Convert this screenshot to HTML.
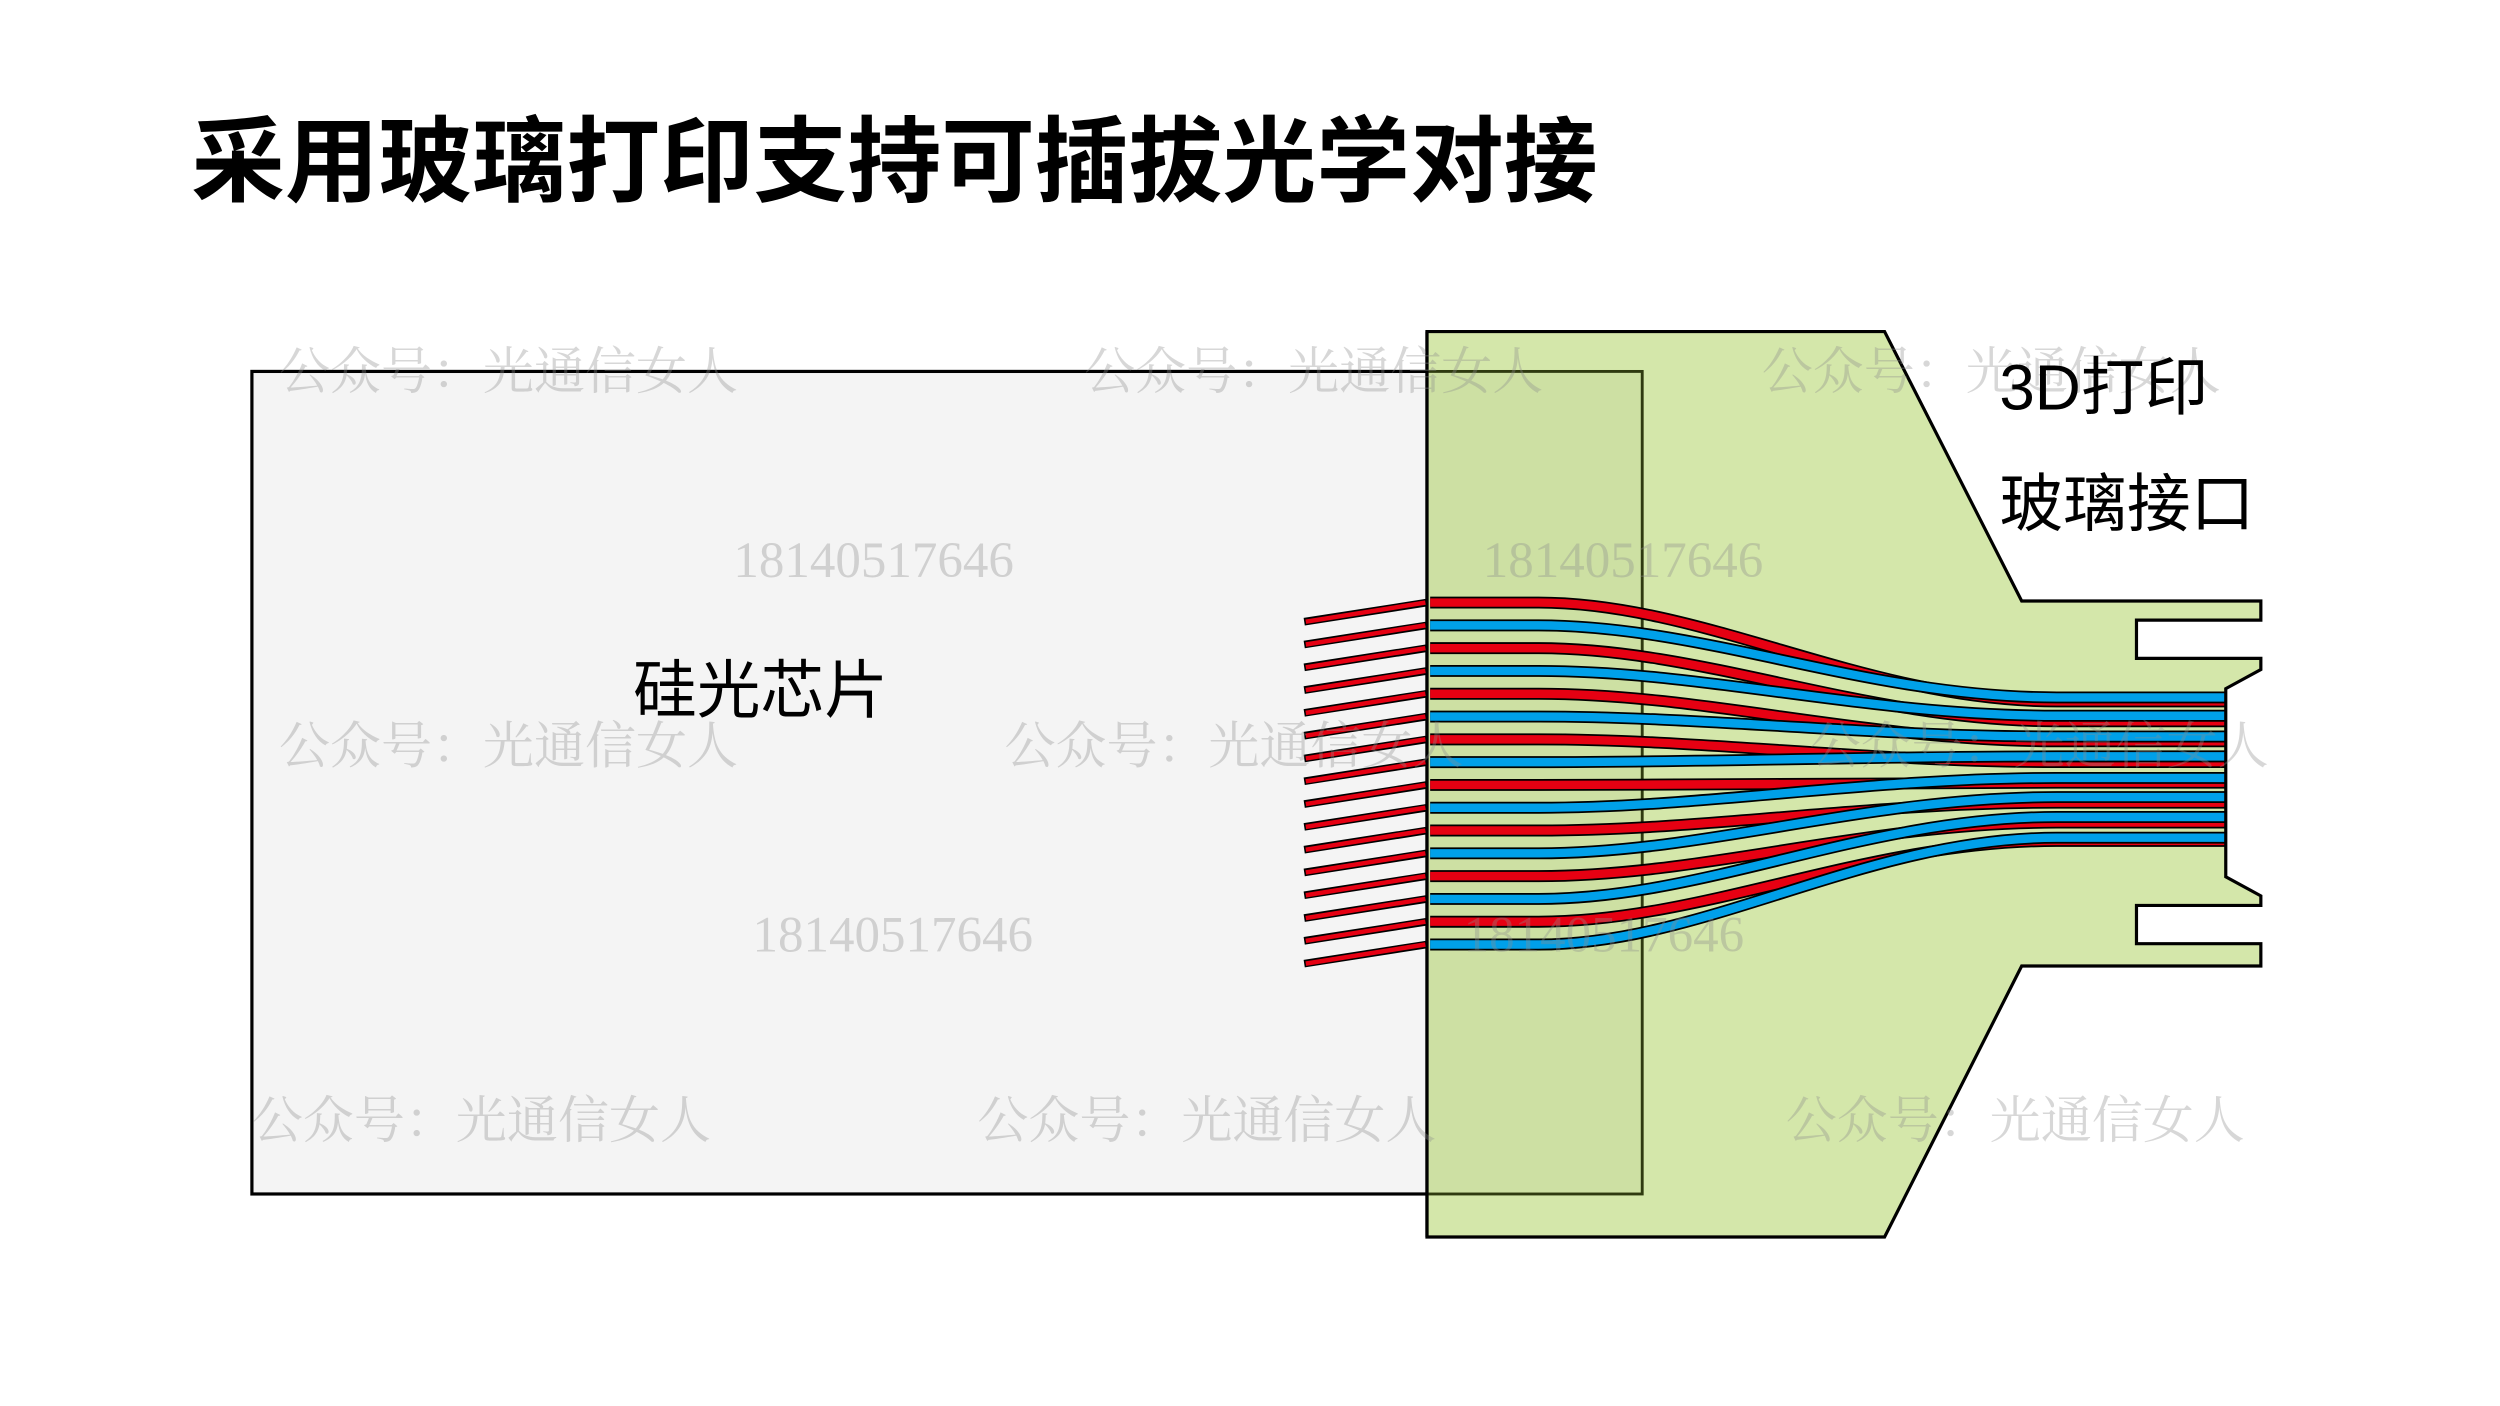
<!DOCTYPE html>
<html><head><meta charset="utf-8"><style>
html,body{margin:0;padding:0;background:#fff}
svg{display:block}
</style></head><body>
<svg width="2500" height="1406" viewBox="0 0 1568 882" preserveAspectRatio="none" xmlns="http://www.w3.org/2000/svg">
<rect width="1600" height="900" fill="#fff"/>
<text x="120" y="122" font-family="Liberation Sans, Noto Sans CJK SC, sans-serif" font-weight="bold" font-size="58.8" fill="#000">采用玻璃打印支持可插拔光学对接</text>
<rect x="158" y="233" width="872" height="516" fill="#f4f4f4" stroke="#000" stroke-width="2"/>
<polygon points="895,208 1182,208 1268,377 1418,377 1418,389 1340,389 1340,413 1418,413 1418,420 1396,432 1396,550 1418,562 1418,568 1340,568 1340,592 1418,592 1418,606 1268,606 1182,776 895,776" fill="#d4e7aa" stroke="#000" stroke-width="2"/>
<rect x="895" y="233" width="135" height="516" fill="rgba(60,80,0,0.04)" stroke="#2f3a10" stroke-width="1.8"/>
<line x1="895" y1="208" x2="895" y2="776" stroke="#000" stroke-width="2"/>
<g fill="none" stroke-linecap="butt">
<g stroke="#000" stroke-width="4.8">
<path d="M818,390 L895,378 M818,404.3 L895,392.3 M818,418.6 L895,406.6 M818,432.9 L895,420.9 M818,447.2 L895,435.2 M818,461.5 L895,449.5 M818,475.8 L895,463.8 M818,490.1 L895,478.1 M818,504.4 L895,492.4 M818,518.7 L895,506.7 M818,533 L895,521 M818,547.3 L895,535.3 M818,561.6 L895,549.6 M818,575.9 L895,563.9 M818,590.2 L895,578.2 M818,604.5 L895,592.5"/>
</g>
<g stroke="#e60012" stroke-width="2.8">
<path d="M819,390 L894,378 M819,404.3 L894,392.3 M819,418.6 L894,406.6 M819,432.9 L894,420.9 M819,447.2 L894,435.2 M819,461.5 L894,449.5 M819,475.8 L894,463.8 M819,490.1 L894,478.1 M819,504.4 L894,492.4 M819,518.7 L894,506.7 M819,533 L894,521 M819,547.3 L894,535.3 M819,561.6 L894,549.6 M819,575.9 L894,563.9 M819,590.2 L894,578.2 M819,604.5 L894,592.5"/>
</g>
</g>
<g fill="none" stroke-linecap="butt">
<g>
<path d="M897,378 H965 C1070,378 1170,440 1290,440 H1396" stroke="#000" stroke-width="7.5"/>
<path d="M897,378 H965 C1070,378 1170,440 1290,440 H1395" stroke="#e60012" stroke-width="5.3"/>
<path d="M897,406.6 H965 C1070,406.6 1170,452.5 1290,452.5 H1396" stroke="#000" stroke-width="7.5"/>
<path d="M897,406.6 H965 C1070,406.6 1170,452.5 1290,452.5 H1395" stroke="#e60012" stroke-width="5.3"/>
<path d="M897,435.2 H965 C1070,435.2 1170,465 1290,465 H1396" stroke="#000" stroke-width="7.5"/>
<path d="M897,435.2 H965 C1070,435.2 1170,465 1290,465 H1395" stroke="#e60012" stroke-width="5.3"/>
<path d="M897,463.8 H965 C1070,463.8 1170,478 1290,478 H1396" stroke="#000" stroke-width="7.5"/>
<path d="M897,463.8 H965 C1070,463.8 1170,478 1290,478 H1395" stroke="#e60012" stroke-width="5.3"/>
<path d="M897,492.4 H965 C1070,492.4 1170,491 1290,491 H1396" stroke="#000" stroke-width="7.5"/>
<path d="M897,492.4 H965 C1070,492.4 1170,491 1290,491 H1395" stroke="#e60012" stroke-width="5.3"/>
<path d="M897,521 H965 C1070,521 1170,503.5 1290,503.5 H1396" stroke="#000" stroke-width="7.5"/>
<path d="M897,521 H965 C1070,521 1170,503.5 1290,503.5 H1395" stroke="#e60012" stroke-width="5.3"/>
<path d="M897,549.6 H965 C1070,549.6 1170,516 1290,516 H1396" stroke="#000" stroke-width="7.5"/>
<path d="M897,549.6 H965 C1070,549.6 1170,516 1290,516 H1395" stroke="#e60012" stroke-width="5.3"/>
<path d="M897,578.2 H965 C1070,578.2 1170,527.5 1290,527.5 H1396" stroke="#000" stroke-width="7.5"/>
<path d="M897,578.2 H965 C1070,578.2 1170,527.5 1290,527.5 H1395" stroke="#e60012" stroke-width="5.3"/>
</g>
<g>
<path d="M897,392.3 H965 C1070,392.3 1170,437.5 1290,437.5 H1396" stroke="#000" stroke-width="7.5"/>
<path d="M897,392.3 H965 C1070,392.3 1170,437.5 1290,437.5 H1395" stroke="#00a0e9" stroke-width="5.3"/>
<path d="M897,420.9 H965 C1070,420.9 1170,449 1290,449 H1396" stroke="#000" stroke-width="7.5"/>
<path d="M897,420.9 H965 C1070,420.9 1170,449 1290,449 H1395" stroke="#00a0e9" stroke-width="5.3"/>
<path d="M897,449.5 H965 C1070,449.5 1170,462 1290,462 H1396" stroke="#000" stroke-width="7.5"/>
<path d="M897,449.5 H965 C1070,449.5 1170,462 1290,462 H1395" stroke="#00a0e9" stroke-width="5.3"/>
<path d="M897,478.1 H965 C1070,478.1 1170,474.5 1290,474.5 H1396" stroke="#000" stroke-width="7.5"/>
<path d="M897,478.1 H965 C1070,478.1 1170,474.5 1290,474.5 H1395" stroke="#00a0e9" stroke-width="5.3"/>
<path d="M897,506.7 H965 C1070,506.7 1170,488 1290,488 H1396" stroke="#000" stroke-width="7.5"/>
<path d="M897,506.7 H965 C1070,506.7 1170,488 1290,488 H1395" stroke="#00a0e9" stroke-width="5.3"/>
<path d="M897,535.3 H965 C1070,535.3 1170,500 1290,500 H1396" stroke="#000" stroke-width="7.5"/>
<path d="M897,535.3 H965 C1070,535.3 1170,500 1290,500 H1395" stroke="#00a0e9" stroke-width="5.3"/>
<path d="M897,563.9 H965 C1070,563.9 1170,512.5 1290,512.5 H1396" stroke="#000" stroke-width="7.5"/>
<path d="M897,563.9 H965 C1070,563.9 1170,512.5 1290,512.5 H1395" stroke="#00a0e9" stroke-width="5.3"/>
<path d="M897,592.5 H965 C1070,592.5 1170,525.5 1290,525.5 H1396" stroke="#000" stroke-width="7.5"/>
<path d="M897,592.5 H965 C1070,592.5 1170,525.5 1290,525.5 H1395" stroke="#00a0e9" stroke-width="5.3"/>
</g>
</g>
<g font-family="Liberation Serif, Noto Serif CJK SC, serif" font-size="32" fill="rgba(140,140,140,0.35)">
<text x="175" y="244">公众号：光通信女人</text>
<text x="680" y="244">公众号：光通信女人</text>
<text x="1105" y="244">公众号：光通信女人</text>
<text x="175" y="479">公众号：光通信女人</text>
<text x="630" y="479">公众号：光通信女人</text>
<text x="1135" y="479">公众号：光通信女人</text>
<text x="158" y="714">公众号：光通信女人</text>
<text x="613" y="714">公众号：光通信女人</text>
<text x="1120" y="714">公众号：光通信女人</text>
<text x="460" y="362">18140517646</text>
<text x="930" y="362">18140517646</text>
<text x="472" y="597">18140517646</text>
<text x="918" y="597">18140517646</text>
</g>
<g font-family="Liberation Sans, Noto Sans CJK SC, sans-serif" font-size="40" fill="#000">
<text x="397" y="447">硅光芯片</text>
<text x="1254" y="257">3D打印</text>
<text x="1254" y="330">玻璃接口</text>
</g>
</svg>
</body></html>
